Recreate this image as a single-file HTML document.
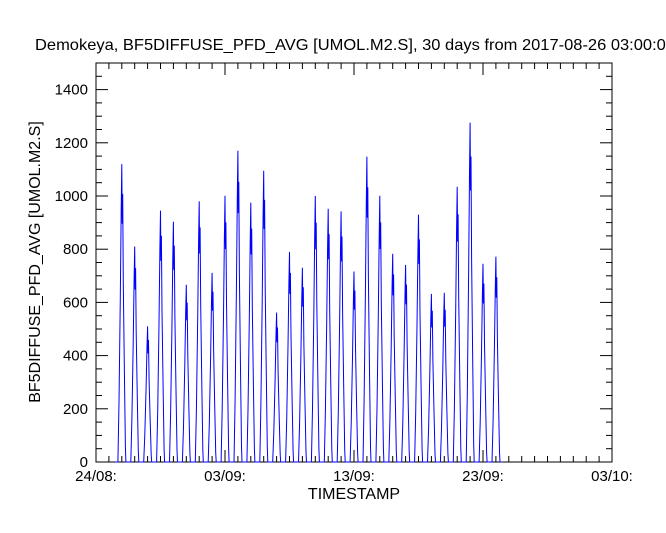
<!DOCTYPE html>
<html><head><meta charset="utf-8"><style>
html,body{margin:0;padding:0;background:#fff;width:666px;height:533px;overflow:hidden}
svg{display:block;font-family:"Liberation Sans",sans-serif}
</style></head><body>
<svg id="chart" width="666" height="533" viewBox="0 0 666 533">
<text x="35" y="50" font-size="16" textLength="640" lengthAdjust="spacingAndGlyphs">Demokeya, BF5DIFFUSE_PFD_AVG [UMOL.M2.S], 30 days from  2017-08-26 03:00:00</text>
<g id="axes"></g>
<g id="series"></g>
<text x="354" y="499" font-size="16" text-anchor="middle">TIMESTAMP</text>
<text transform="translate(40,262) rotate(-90)" font-size="16" text-anchor="middle">BF5DIFFUSE_PFD_AVG [UMOL.M2.S]</text>
</svg>
<script>
const xTickLabels = ["24/08:", "03/09:", "13/09:", "23/09:", "03/10:"];
const yTickLabels = [0, 200, 400, 600, 800, 1000, 1200, 1400];
const dailyPeaks = [1120, 810, 510, 945, 903, 666, 980, 711, 1001, 1170, 975, 1095, 562, 790, 730, 1000, 952, 942, 716, 1148, 1001, 783, 741, 930, 632, 636, 1035, 1276, 745, 772];
const firstPeakDay = 2.0; // days after 24/08 00:00

const L=96,R=612,T=63,B=462;
const xDays = d => L + d*(R-L)/40;
const yVal = v => B - v*(B-T)/1500;
const NS="http://www.w3.org/2000/svg";
const axes=document.getElementById('axes');
function mk(tag,attrs,parent){const e=document.createElementNS(NS,tag);for(const k in attrs)e.setAttribute(k,attrs[k]);parent.appendChild(e);return e;}
const frame=mk('rect',{x:L,y:T,width:R-L,height:B-T,fill:'none',stroke:'#000','stroke-width':1},axes);


for(let d=0;d<=40;d++){
  const x=xDays(d), len=d%10===0?12:6;
  const t1=mk('line',{x1:x,x2:x,y1:B,y2:B-len,stroke:'#000'},axes);
  
  
  const t2=mk('line',{x1:x,x2:x,y1:T,y2:T+len,stroke:'#000'},axes);
  
  
}
xTickLabels.forEach((s,i)=>{
  const t=mk('text',{x:xDays(i*10),y:481,'font-size':15,'text-anchor':'middle'},axes);
  t.textContent=s;
  
  
});
for(let v=0;v<=1500;v+=50){
  const y=yVal(v), len=v%200===0?12:6;
  const t1=mk('line',{x1:L,x2:L+len,y1:y,y2:y,stroke:'#000'},axes);
  
  
  const t2=mk('line',{x1:R,x2:R-len,y1:y,y2:y,stroke:'#000'},axes);
  
  
}
yTickLabels.forEach(v=>{
  const t=mk('text',{x:L-8,y:yVal(v)+5,'font-size':15,'text-anchor':'end'},axes);
  t.textContent=v;
  
  
});
// daily profile shape (fractions of peak), relative day offsets
const prof=[[-0.3,0],[-0.22,0.2],[-0.12,0.55],[-0.05,0.85],[0,1],[0.03,0.8],[0.07,0.9],[0.12,0.6],[0.2,0.3],[0.28,0.05],[0.32,0]];
let pts=[[xDays(firstPeakDay-0.5),yVal(0)]];
dailyPeaks.forEach((p,i)=>{
  const c=firstPeakDay+i;
  prof.forEach(([dx,f])=>pts.push([xDays(c+dx),yVal(p*f)]));
});
pts.push([xDays(firstPeakDay+dailyPeaks.length-0.5),yVal(0)]);
const line=mk('polyline',{points:pts.map(p=>p[0].toFixed(1)+','+p[1].toFixed(1)).join(' '),fill:'none',stroke:'#0000ff','stroke-width':1},document.getElementById('series'));


</script>
</body></html>
